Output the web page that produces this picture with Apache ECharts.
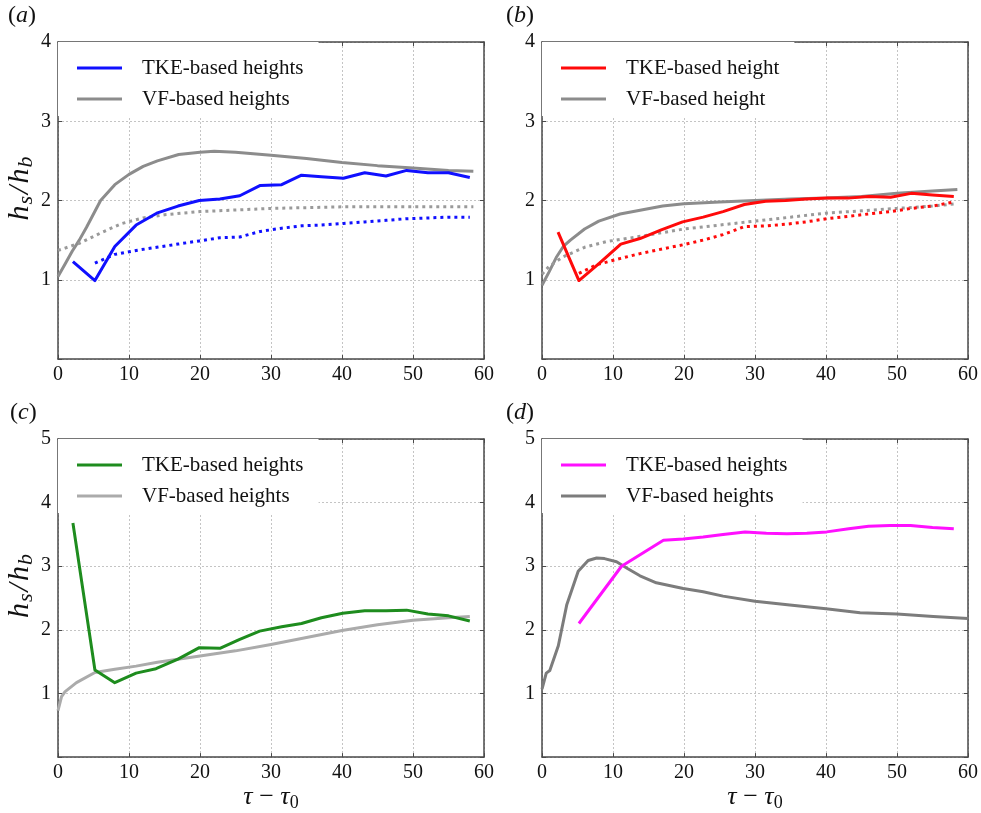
<!DOCTYPE html>
<html>
<head>
<meta charset="utf-8">
<script src="https://cdn.jsdelivr.net/npm/echarts@6/dist/echarts.min.js"></script>
<style>
html,body{margin:0;padding:0;background:#fff;}
#chart{width:981px;height:813px;}
</style>
</head>
<body>
<div id="chart"></div>
<script>
// ---------- Data ----------
var xTicks = [0, 10, 20, 30, 40, 50, 60];
var yTicksTop = [1, 2, 3, 4];
var yTicksBottom = [1, 2, 3, 4, 5];

// Panel (a)
var aTkeX = [2.1, 5.2, 8.0, 11.0, 13.9, 16.9, 19.9, 22.8, 25.6, 28.5, 31.5, 34.3, 37.1, 40.2, 43.2, 46.2, 49.1, 52.1, 55.0, 58.0];
var aTkeY = [1.23, 0.99, 1.42, 1.69, 1.84, 1.93, 2.00, 2.02, 2.06, 2.19, 2.20, 2.32, 2.30, 2.28, 2.35, 2.31, 2.38, 2.35, 2.35, 2.29];
var aTkeDotX = [5.2, 8.0, 11.0, 13.9, 16.9, 19.9, 22.8, 25.6, 28.5, 31.5, 34.3, 37.1, 40.2, 43.2, 46.2, 49.1, 52.1, 55.0, 58.0];
var aTkeDotY = [1.21, 1.32, 1.37, 1.41, 1.45, 1.49, 1.53, 1.54, 1.61, 1.65, 1.68, 1.69, 1.71, 1.73, 1.75, 1.77, 1.78, 1.79, 1.79];
var aVfX = [0, 1, 2, 3, 4, 6, 8, 10, 12, 14, 17, 20, 22, 25, 30, 35, 40, 45, 50, 55, 58.5];
var aVfY = [1.04, 1.20, 1.36, 1.50, 1.66, 2.00, 2.20, 2.33, 2.43, 2.50, 2.58, 2.61, 2.62, 2.61, 2.57, 2.53, 2.48, 2.44, 2.41, 2.38, 2.37];
var aVfDotX = [0, 1, 3, 6, 9, 12, 15, 20, 25, 30, 40, 50, 58.5];
var aVfDotY = [1.37, 1.40, 1.46, 1.59, 1.71, 1.78, 1.82, 1.86, 1.88, 1.90, 1.92, 1.92, 1.92];

// Panel (b)
var bTkeX = [2.26, 5.2, 8.1, 11.1, 13.8, 16.8, 19.8, 22.7, 25.5, 28.5, 31.5, 34.3, 37.2, 40.1, 43.1, 46.0, 49.1, 52.0, 55.0, 58.0];
var bTkeY = [1.60, 0.99, 1.21, 1.45, 1.52, 1.63, 1.73, 1.79, 1.86, 1.95, 1.99, 2.00, 2.02, 2.03, 2.03, 2.05, 2.04, 2.09, 2.07, 2.05];
var bTkeDotX = [5.2, 7.7, 11.1, 13.8, 17.0, 19.8, 22.7, 25.5, 28.5, 31.5, 34.3, 37.2, 40.1, 43.1, 46.0, 49.1, 52.0, 55.0, 58.0];
var bTkeDotY = [1.08, 1.19, 1.27, 1.33, 1.39, 1.44, 1.50, 1.57, 1.67, 1.68, 1.70, 1.73, 1.77, 1.80, 1.83, 1.86, 1.90, 1.93, 1.98];
var bVfX = [0, 1, 2, 3, 4, 6, 8, 11, 14, 17, 20, 25, 30, 35, 40, 45, 50, 55, 58.5];
var bVfY = [0.93, 1.10, 1.28, 1.42, 1.50, 1.64, 1.74, 1.83, 1.88, 1.93, 1.96, 1.98, 2.00, 2.02, 2.03, 2.05, 2.09, 2.12, 2.14];
var bVfDotX = [0, 1, 3, 6, 9, 14, 20, 25, 30, 35, 40, 45, 50, 55, 58.5];
var bVfDotY = [1.07, 1.17, 1.29, 1.41, 1.48, 1.55, 1.64, 1.69, 1.74, 1.79, 1.84, 1.87, 1.90, 1.93, 1.96];

// Panel (c)
var cTkeX = [2.1, 5.2, 8.0, 11.0, 13.8, 16.9, 19.9, 22.8, 25.6, 28.4, 31.5, 34.3, 37.1, 40.1, 43.2, 46.2, 49.1, 52.1, 55.0, 58.0];
var cTkeY = [3.68, 1.37, 1.17, 1.32, 1.39, 1.54, 1.72, 1.71, 1.85, 1.98, 2.05, 2.10, 2.19, 2.26, 2.30, 2.30, 2.31, 2.25, 2.22, 2.14];
var cVfX = [0, 0.5, 1, 2.6, 5.2, 8, 11, 14, 20, 25, 30, 35, 40, 45, 50, 55, 58];
var cVfY = [0.73, 0.95, 1.03, 1.17, 1.33, 1.38, 1.43, 1.49, 1.59, 1.67, 1.77, 1.88, 1.99, 2.08, 2.15, 2.19, 2.21];

// Panel (d)
var dTkeX = [5.2, 11.2, 17.1, 19.9, 22.7, 25.5, 28.6, 31.6, 34.5, 37.3, 40.1, 43.2, 46.0, 49.0, 51.9, 55.0, 58.0];
var dTkeY = [2.10, 3.00, 3.41, 3.43, 3.46, 3.50, 3.54, 3.52, 3.51, 3.52, 3.54, 3.59, 3.63, 3.64, 3.64, 3.61, 3.59];
var dVfX = [0, 0.6, 1.1, 2.3, 3.5, 5.1, 6.5, 7.7, 8.8, 10.5, 12.1, 13.8, 16.1, 19.9, 22.7, 25.5, 30, 34.9, 40, 44.8, 50, 55.1, 60];
var dVfY = [1.07, 1.32, 1.36, 1.75, 2.40, 2.92, 3.09, 3.13, 3.12, 3.07, 2.96, 2.85, 2.74, 2.65, 2.60, 2.53, 2.45, 2.39, 2.33, 2.27, 2.25, 2.21, 2.18];

var legendA = ['TKE-based heights', 'VF-based heights'];
var legendB = ['TKE-based height', 'VF-based height'];
var panelLabels = ['a', 'b', 'c', 'd'];

// ---------- Build options ----------
var FONT = 'Liberation Serif';
function pairs(xs, ys) { return xs.map(function (x, i) { return [x, ys[i]]; }); }

var grids = [
  { left: 58, top: 42, width: 426, height: 317, yMax: 4 },
  { left: 542, top: 42, width: 426, height: 317, yMax: 4 },
  { left: 58, top: 439, width: 426, height: 319, yMax: 5 },
  { left: 542, top: 439, width: 426, height: 319, yMax: 5 }
];

var xAxes = [], yAxes = [], series = [], legends = [], titles = [];
var axisColor = '#4a4a4a';
var gridLine = { show: true, lineStyle: { color: '#c4c4c4', type: [2, 2], width: 1 } };
var tickRich = { t: { fontFamily: FONT, fontSize: 20, color: '#111' } };

grids.forEach(function (g, i) {
  xAxes.push({
    type: 'value', gridIndex: i, min: 0, max: 60, interval: 10, position: 'bottom',
    axisLine: { show: true, onZero: false, lineStyle: { color: axisColor, width: 1.5 } },
    axisTick: { show: true, inside: true, length: 4, lineStyle: { color: axisColor } },
    axisLabel: { show: true, fontFamily: FONT, fontSize: 20, color: '#111', margin: 6,
      formatter: function (v) { return '{t|' + v + '}'; }, rich: tickRich },
    splitLine: gridLine,
    name: i >= 2 ? '{i|τ}{m| − }{i|τ}{s|0}' : '',
    nameLocation: 'middle', nameGap: 16,
    nameTextStyle: { fontFamily: FONT, fontSize: 24, color: '#111',
      rich: { i: { fontFamily: FONT, fontStyle: 'italic', fontSize: 26, color: '#111', lineHeight: 30, verticalAlign: 'middle' },
              m: { fontFamily: FONT, fontSize: 26, color: '#111', lineHeight: 30, verticalAlign: 'middle' },
              s: { fontFamily: FONT, fontSize: 18, color: '#111', lineHeight: 18, verticalAlign: 'bottom' } } }
  });
  xAxes.push({
    type: 'value', gridIndex: i, min: 0, max: 60, interval: 10, position: 'top',
    axisLine: { show: true, onZero: false, lineStyle: { color: axisColor, width: 1.5 } },
    axisTick: { show: true, inside: true, length: 4, lineStyle: { color: axisColor } },
    axisLabel: { show: false }, splitLine: { show: false }
  });
  yAxes.push({
    type: 'value', gridIndex: i, min: 0, max: g.yMax, interval: 1, position: 'left',
    axisLine: { show: true, onZero: false, lineStyle: { color: axisColor, width: 1.5 } },
    axisTick: { show: true, inside: true, length: 4, lineStyle: { color: axisColor } },
    axisLabel: { show: true, fontFamily: FONT, fontSize: 20, color: '#111', margin: 7,
      formatter: function (v) { return v === 0 ? '' : '{t|' + v + '}'; }, rich: tickRich },
    splitLine: gridLine,
    name: (i === 0 || i === 2) ? '{i|h}{s|s}{i|/}{i|h}{s|b}' : '',
    nameLocation: 'middle', nameGap: 20, nameRotate: 90,
    nameTextStyle: { fontFamily: FONT, color: '#111', padding: [0, 0, 0, 24],
      rich: { i: { fontFamily: FONT, fontStyle: 'italic', fontSize: 30, color: '#111', lineHeight: 34, verticalAlign: 'middle', padding: [0, 1, 0, 1] },
              s: { fontFamily: FONT, fontStyle: 'italic', fontSize: 22, color: '#111', lineHeight: 22, verticalAlign: 'bottom', padding: [0, 1, 0, 0] } } }
  });
  yAxes.push({
    type: 'value', gridIndex: i, min: 0, max: g.yMax, interval: 1, position: 'right',
    axisLine: { show: true, onZero: false, lineStyle: { color: axisColor, width: 1.5 } },
    axisTick: { show: true, inside: true, length: 4, lineStyle: { color: axisColor } },
    axisLabel: { show: false }, splitLine: { show: false }
  });
});

function addLine(panel, name, xs, ys, color, dotted, z) {
  series.push({
    type: 'line', name: name, xAxisIndex: panel * 2, yAxisIndex: panel * 2,
    data: pairs(xs, ys), showSymbol: false, symbol: 'none', smooth: false, silent: true,
    lineStyle: { color: color, width: 3, type: dotted ? [3, 4] : 'solid', cap: 'butt', join: 'round' },
    itemStyle: { color: color }, z: z || 2
  });
}

var gA = '#8c8c8c', gB = '#8c8c8c', gC = '#ababab', gD = '#7c7c7c';
// (a)
addLine(0, 'a:' + legendA[1], aVfX, aVfY, gA, false);
addLine(0, 'a:vfdot', aVfDotX, aVfDotY, '#9a9a9a', true);
addLine(0, 'a:' + legendA[0], aTkeX, aTkeY, '#1010ff', false, 3);
addLine(0, 'a:tkedot', aTkeDotX, aTkeDotY, '#1010ff', true, 3);
// (b)
addLine(1, 'b:' + legendB[1], bVfX, bVfY, gB, false);
addLine(1, 'b:vfdot', bVfDotX, bVfDotY, '#9a9a9a', true);
addLine(1, 'b:' + legendB[0], bTkeX, bTkeY, '#ff0a0a', false, 3);
addLine(1, 'b:tkedot', bTkeDotX, bTkeDotY, '#ff0a0a', true, 3);
// (c)
addLine(2, 'c:' + legendA[1], cVfX, cVfY, gC, false);
addLine(2, 'c:' + legendA[0], cTkeX, cTkeY, '#1e8c1e', false, 3);
// (d)
addLine(3, 'd:' + legendA[1], dVfX, dVfY, gD, false);
addLine(3, 'd:' + legendA[0], dTkeX, dTkeY, '#ff10ff', false, 3);

var legendNames = [legendA, legendB, legendA, legendA];
grids.forEach(function (g, i) {
  var p = panelLabels[i];
  legends.push({
    orient: 'vertical', left: g.left, top: g.top, padding: [15, 15, 6, 19],
    backgroundColor: '#ffffff',
    itemWidth: 45, itemHeight: 3, itemGap: 9, icon: 'rect',
    selectedMode: false,
    data: [p + ':' + legendNames[i][0], p + ':' + legendNames[i][1]],
    formatter: function (n) { return '{t|' + n.slice(2) + '}'; },
    textStyle: { fontFamily: FONT, fontSize: 20, color: '#111', lineHeight: 22,
      rich: { t: { fontFamily: FONT, fontSize: 21, color: '#111', lineHeight: 22, padding: [0, 0, 0, 15] } } }
  });
  titles.push({
    text: '{p|(}{i|' + p + '}{p|)}',
    left: [8, 506, 10, 506][i], top: [4, 4, 401, 401][i], padding: 0,
    textStyle: { fontFamily: FONT, fontWeight: 'normal', fontSize: 24, rich: {
      p: { fontFamily: FONT, fontWeight: 'normal', fontSize: 24, color: '#111' },
      i: { fontFamily: FONT, fontWeight: 'normal', fontStyle: 'italic', fontSize: 24, color: '#111' } } }
  });
});

var option = {
  backgroundColor: '#ffffff',
  animation: false,
  textStyle: { fontFamily: FONT },
  title: titles,
  legend: legends,
  grid: grids.map(function (g) { return { left: g.left, top: g.top, width: g.width, height: g.height, containLabel: false }; }),
  xAxis: xAxes,
  yAxis: yAxes,
  series: series
};

var chart = echarts.init(document.getElementById('chart'), null, { renderer: 'canvas' });
chart.setOption(option);
</script>
</body>
</html>
